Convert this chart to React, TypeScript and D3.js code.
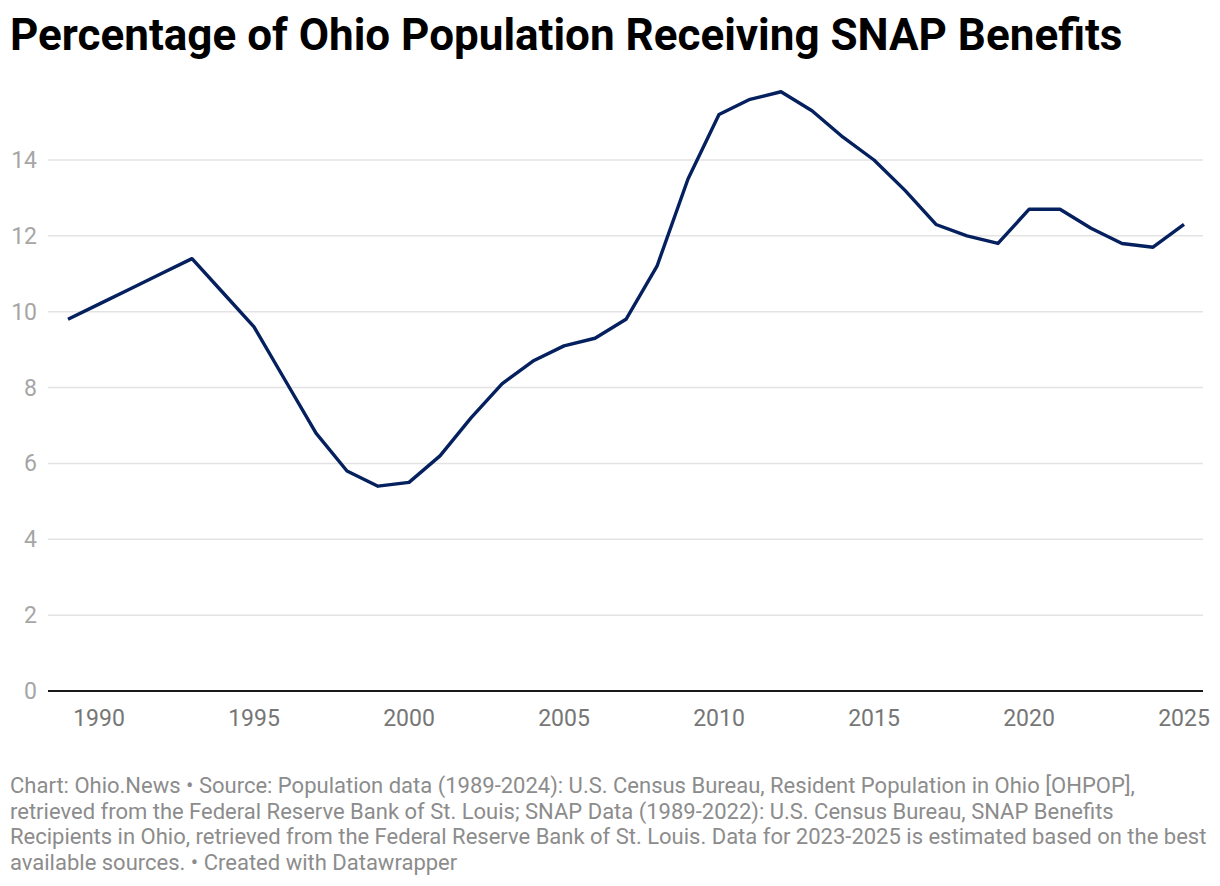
import React from 'react';
import * as d3 from 'd3';

const years = d3.range(1989, 2026);
const values = [
  9.8, 10.2, 10.6, 11.0, 11.4, 10.5, 9.6, 8.2, 6.8, 5.8,
  5.4, 5.5, 6.2, 7.2, 8.1, 8.7, 9.1, 9.3, 9.8, 11.2,
  13.5, 15.2, 15.6, 15.8, 15.3, 14.6, 14.0, 13.2, 12.3, 12.0,
  11.8, 12.7, 12.7, 12.2, 11.8, 11.7, 12.3,
];
const yTicks = [0, 2, 4, 6, 8, 10, 12, 14];
const xTicks = [1990, 1995, 2000, 2005, 2010, 2015, 2020, 2025];

const title = 'Percentage of Ohio Population Receiving SNAP Benefits';
const footerLines = [
  'Chart: Ohio.News \u2022 Source: Population data (1989-2024): U.S. Census Bureau, Resident Population in Ohio [OHPOP],',
  'retrieved from the Federal Reserve Bank of St. Louis; SNAP Data (1989-2022): U.S. Census Bureau, SNAP Benefits',
  'Recipients in Ohio, retrieved from the Federal Reserve Bank of St. Louis. Data for 2023-2025 is estimated based on the best',
  'available sources. \u2022 Created with Datawrapper',
];

const W = 1220;
const H = 886;

export default function App() {
  const x = d3.scaleLinear().domain([1989, 2025]).range([68, 1184]);
  const y = d3.scaleLinear().domain([0, 14]).range([691, 160]);
  const line = d3
    .line<number>()
    .x((_, i) => x(years[i]))
    .y((d) => y(d));

  return (
    <div style={{ position: 'absolute', left: 0, top: 0 }}>
      <svg width={W} height={H} style={{ fontFamily: 'Roboto, sans-serif', display: 'block' }}>
        <rect width={W} height={H} fill="#fff" />
        <text x={10} y={50} fontSize={44} fontWeight={700} fill="#000">
          {title}
        </text>

        {yTicks.map((t) => (
          <g key={t}>
            {t !== 0 && (
              <line x1={48} x2={1203} y1={y(t)} y2={y(t)} stroke="#e3e3e3" strokeWidth={1.5} />
            )}
            <text x={37} y={y(t)} dy="0.35em" textAnchor="end" fontSize={23} fill="#a6a6a6">
              {t}
            </text>
          </g>
        ))}

        <path d={line(values) ?? ''} fill="none" stroke="#05205e" strokeWidth={3.4} strokeLinejoin="round" />

        <line x1={48} x2={1203} y1={y(0)} y2={y(0)} stroke="#1a1a1a" strokeWidth={2} />

        {xTicks.map((t) => (
          <text key={t} x={x(t)} y={726} textAnchor="middle" fontSize={23} fill="#767676">
            {t}
          </text>
        ))}

        <text fontSize={22} fill="#8c8c8c">
          {footerLines.map((l, i) => (
            <tspan key={i} x={10} y={793 + i * 25.5}>
              {l}
            </tspan>
          ))}
        </text>
      </svg>
    </div>
  );
}
